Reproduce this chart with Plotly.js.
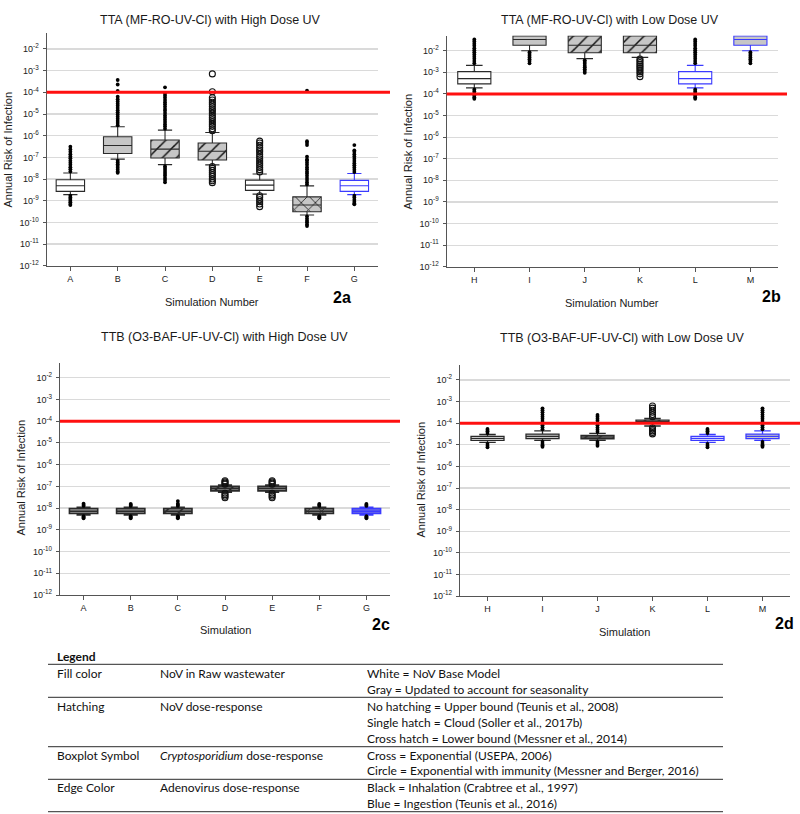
<!DOCTYPE html>
<html><head><meta charset="utf-8">
<script src="https://cdn.plot.ly/plotly-3.0.1.min.js"></script>
<style>body{margin:0;background:#fff}#chart{width:800px;height:814px}</style>
</head><body><div id="chart"></div>
<script>
// ---------------- DATA ----------------
const catsHigh = ['A','B','C','D','E','F','G'];
const catsLow  = ['H','I','J','K','L','M'];
const threshold = 1e-4;
const yTickVals = [1e-12,1e-11,1e-10,1e-9,1e-8,1e-7,1e-6,1e-5,1e-4,1e-3,1e-2];
const yTickText = ['10<sup>-12</sup>','10<sup>-11</sup>','10<sup>-10</sup>','10<sup>-9</sup>','10<sup>-8</sup>','10<sup>-7</sup>','10<sup>-6</sup>','10<sup>-5</sup>','10<sup>-4</sup>','10<sup>-3</sup>','10<sup>-2</sup>'];

// Panel 2a
const a_q1  = [2.7e-9, 1.5e-7, 9.3e-8, 7.6e-8, 3.0e-9, 3.1e-10, 2.7e-9];
const a_med = [4.9e-9, 3.5e-7, 2.4e-7, 1.9e-7, 5.2e-9, 6.3e-10, 4.9e-9];
const a_q3  = [9.3e-9, 8.9e-7, 6.3e-7, 4.6e-7, 8.9e-9, 1.5e-9, 8.7e-9];
const a_lf  = [1.9e-9, 8.3e-8, 4.6e-8, 4.5e-8, 2.0e-9, 2.2e-10, 1.9e-9];
const a_uf  = [1.9e-8, 2.6e-6, 1.8e-6, 1.4e-6, 1.7e-8, 4.8e-9, 1.8e-8];
const a_out = [
  [2.2e-8,2.8e-8,3.5e-8,4.5e-8,5.6e-8,7e-8,9e-8,1.1e-7,1.4e-7,1.8e-7,2.3e-7,3.1e-7,1.7e-9,1.4e-9,1.2e-9,1e-9,8.5e-10,7e-10,6.3e-10],
  [3e-6,3.8e-6,4.8e-6,6e-6,7.5e-6,9.5e-6,1.2e-5,1.5e-5,1.9e-5,2.4e-5,3e-5,3.8e-5,4.8e-5,6.3e-5,1.15e-4,2.3e-4,3.7e-4,7e-8,5.8e-8,4.8e-8,4e-8,3.3e-8,2.7e-8,2.2e-8,1.95e-8],
  [2.1e-6,2.7e-6,3.4e-6,4.3e-6,5.4e-6,6.8e-6,8.6e-6,1.1e-5,1.4e-5,1.7e-5,2.2e-5,2.8e-5,3.5e-5,4.4e-5,5.6e-5,7e-5,8.9e-5,1.7e-4,3.9e-8,3.2e-8,2.6e-8,2.1e-8,1.7e-8,1.4e-8,1.1e-8,9e-9,7.1e-9],
  [1.7e-6,2.1e-6,2.7e-6,3.4e-6,4.3e-6,5.4e-6,6.8e-6,8.6e-6,1.1e-5,1.4e-5,1.7e-5,2.2e-5,2.8e-5,3.5e-5,4.4e-5,5.6e-5,1.07e-4,7.1e-4,3.8e-8,3.1e-8,2.5e-8,2e-8,1.6e-8,1.3e-8,1e-8,8.3e-9,6.8e-9],
  [2.1e-8,2.7e-8,3.4e-8,4.3e-8,5.4e-8,6.8e-8,8.6e-8,1.1e-7,1.4e-7,1.8e-7,2.2e-7,2.8e-7,3.6e-7,4.6e-7,5.6e-7,1.7e-9,1.4e-9,1.1e-9,9e-10,7e-10,5.3e-10],
  [5.6e-9,7e-9,8.9e-9,1.1e-8,1.4e-8,1.8e-8,2.2e-8,2.8e-8,3.5e-8,4.5e-8,5.6e-8,7e-8,8e-8,1.07e-7,3.7e-7,4.6e-7,5.6e-7,1.2e-4,1.9e-10,1.5e-10,1.2e-10,1e-10,8e-11,6.8e-11],
  [2.1e-8,2.7e-8,3.4e-8,4.3e-8,5.4e-8,6.8e-8,8.6e-8,1.1e-7,1.4e-7,1.8e-7,2.1e-7,3.7e-7,1.7e-9,1.4e-9,1.1e-9,9e-10,7.5e-10,6.8e-10]
];

// Panel 2b
const b_q1  = [2.9e-4, 1.8e-2, 8.1e-3, 8.1e-3, 2.9e-4, 1.8e-2];
const b_med = [5.1e-4, 3.3e-2, 1.8e-2, 1.8e-2, 5.1e-4, 3.3e-2];
const b_q3  = [1.07e-3, 4.8e-2, 4.8e-2, 4.8e-2, 1.07e-3, 4.8e-2];
const b_lf  = [1.9e-4, 1e-2, 4.3e-3, 4.9e-3, 1.9e-4, 1e-2];
const b_uf  = [2.1e-3, 4.8e-2, 4.8e-2, 4.8e-2, 2.1e-3, 4.8e-2];
const b_out = [
  [2.6e-3,3.3e-3,4.2e-3,5.3e-3,6.7e-3,8.4e-3,1.06e-2,1.3e-2,1.7e-2,2.1e-2,2.7e-2,3.3e-2,1.6e-4,1.3e-4,1.05e-4,8.5e-5,7e-5,5.9e-5],
  [8.5e-3,7e-3,5.8e-3,4.8e-3,4e-3,3.3e-3,2.6e-3],
  [3.6e-3,3e-3,2.5e-3,2e-3,1.7e-3,1.4e-3,1.15e-3,9.5e-4],
  [4.1e-3,3.4e-3,2.8e-3,2.3e-3,1.9e-3,1.6e-3,1.3e-3,1.05e-3,8.5e-4,6.3e-4],
  [2.6e-3,3.3e-3,4.2e-3,5.3e-3,6.7e-3,8.4e-3,1.06e-2,1.3e-2,1.7e-2,2.1e-2,2.7e-2,3.3e-2,1.6e-4,1.3e-4,1.05e-4,8.5e-5,7e-5,5.9e-5],
  [8.5e-3,7e-3,5.8e-3,4.8e-3,4e-3,3.3e-3,2.6e-3]
];

// Panel 2c
const c_q1  = [5.6e-9, 5.6e-9, 5.6e-9, 6.2e-8, 6.2e-8, 5.6e-9, 5.6e-9];
const c_med = [7.2e-9, 7.2e-9, 7.2e-9, 7.9e-8, 7.9e-8, 7.2e-9, 7.2e-9];
const c_q3  = [9.5e-9, 9.5e-9, 9.5e-9, 1.0e-7, 1.0e-7, 9.5e-9, 9.5e-9];
const c_lf  = [4.8e-9, 4.8e-9, 4.8e-9, 5.4e-8, 5.4e-8, 4.8e-9, 4.8e-9];
const c_uf  = [1.1e-8, 1.1e-8, 1.1e-8, 1.15e-7, 1.15e-7, 1.1e-8, 1.1e-8];
const c_out = [
  [1.25e-8,1.4e-8,1.6e-8,4.2e-9,3.8e-9,3.4e-9],
  [1.25e-8,1.4e-8,1.55e-8,4.2e-9,3.8e-9,3.4e-9],
  [1.25e-8,1.4e-8,1.6e-8,2.1e-8,4.2e-9,3.8e-9,3.4e-9],
  [1.25e-7,1.4e-7,1.6e-7,1.8e-7,4.8e-8,4.1e-8,3.5e-8,3e-8],
  [1.25e-7,1.4e-7,1.6e-7,1.8e-7,4.8e-8,4.1e-8,3.5e-8,3e-8],
  [1.25e-8,1.4e-8,1.55e-8,4.2e-9,3.8e-9,3.4e-9],
  [1.25e-8,1.4e-8,1.55e-8,4.2e-9,3.8e-9,3.4e-9]
];

// Panel 2d
const d_q1  = [1.6e-5, 1.95e-5, 1.9e-5, 9.8e-5, 1.6e-5, 1.95e-5];
const d_med = [2.0e-5, 2.45e-5, 2.3e-5, 1.17e-4, 2.0e-5, 2.45e-5];
const d_q3  = [2.45e-5, 3.15e-5, 2.75e-5, 1.4e-4, 2.45e-5, 3.15e-5];
const d_lf  = [1.3e-5, 1.6e-5, 1.6e-5, 7.4e-5, 1.3e-5, 1.6e-5];
const d_uf  = [3.0e-5, 4.4e-5, 3.4e-5, 1.65e-4, 3.0e-5, 4.4e-5];
const d_out = [
  [3.5e-5,4.2e-5,4.8e-5,5.4e-5,1.1e-5,9e-6,7.6e-6],
  [5.2e-5,6.5e-5,8e-5,1e-4,1.25e-4,1.6e-4,2e-4,2.5e-4,3.2e-4,4e-4,4.9e-4,1.35e-5,1.1e-5,9.5e-6,8.1e-6],
  [4e-5,5e-5,6.3e-5,8e-5,1e-4,1.3e-4,1.6e-4,2e-4,2.4e-4,1.35e-5,1.1e-5,9e-6],
  [2e-4,2.5e-4,3.2e-4,4e-4,5e-4,6.3e-4,6.2e-5,5.2e-5,4.4e-5,3.7e-5,3.2e-5],
  [3.5e-5,4.2e-5,4.8e-5,5.4e-5,1.1e-5,9e-6,7.6e-6],
  [5.2e-5,6.5e-5,8e-5,1e-4,1.25e-4,1.6e-4,2e-4,2.5e-4,3.2e-4,4e-4,4.9e-4,1.35e-5,1.1e-5,9.5e-6,8.1e-6]
];

// --------------- STYLES ---------------
const styHigh = {fill:['white','gray','gray','gray','white','gray','white'], hatch:['','','/','/','','x',''], sym:['dot','dot','dot','ring','ring','dot','dot'], edge:['black','black','black','black','black','black','blue']};
const styLow  = {fill:['white','gray','gray','gray','white','gray'], hatch:['','','/','/','',''], sym:['dot','dot','dot','ring','dot','dot'], edge:['black','black','black','black','blue','blue']};
const FILL = {white:'#ffffff', gray:'#c6c6c6'};
const EDGE = {black:'#2a2a2a', blue:'#3b3bff'};
const W = 800, H = 814;
const px = v => v / W, py = v => 1 - v / H;

const panels = [
  {n:1, cats:catsHigh, st:{q1:a_q1,med:a_med,q3:a_q3,lf:a_lf,uf:a_uf,out:a_out}, sty:styHigh, x0:46.7, x1:378, yTop:33, yBot:265.7, top:-1.262, redEnd:390, lw:1.1, compact:false},
  {n:2, cats:catsLow,  st:{q1:b_q1,med:b_med,q3:b_q3,lf:b_lf,uf:b_uf,out:b_out}, sty:styLow,  x0:446.7, x1:778, yTop:35.5, yBot:266.7, top:-1.296, redEnd:787, lw:1.1, compact:false},
  {n:3, cats:catsHigh, st:{q1:c_q1,med:c_med,q3:c_q3,lf:c_lf,uf:c_uf,out:c_out}, sty:styHigh, x0:60, x1:390, yTop:362.7, yBot:595, top:-1.31, redEnd:400, lw:1.6, compact:true},
  {n:4, cats:catsLow,  st:{q1:d_q1,med:d_med,q3:d_q3,lf:d_lf,uf:d_uf,out:d_out}, sty:styLow,  x0:460, x1:790, yTop:365, yBot:596, top:-1.306, redEnd:800, lw:1.3, compact:false}
];

const traces = [];
const layout = {width:W, height:H, margin:{l:0,r:0,t:0,b:0}, paper_bgcolor:'#fff', plot_bgcolor:'rgba(0,0,0,0)',
  showlegend:false, boxmode:'overlay', barmode:'overlay', shapes:[], annotations:[],
  font:{family:'"Liberation Sans", Arial, sans-serif', color:'#222'}};

panels.forEach(p => {
  const xa = p.n === 1 ? 'x' : 'x' + p.n;
  const ya = p.n === 1 ? 'y' : 'y' + p.n;
  const st = p.st, sty = p.sty;
  p.cats.forEach((c,i) => {
    const f = sty.fill[i];
    const fill = p.compact ? (f === 'white' ? '#9a9a9a' : '#8a8a8a') : FILL[f];
    const bar = {type:'bar', xaxis:xa, yaxis:ya, x:[c], base:[st.q1[i]], y:[st.q3[i]-st.q1[i]], width:0.6,
      marker:{color:fill, line:{width:0}}, hoverinfo:'skip'};
    if (sty.hatch[i]) bar.marker.pattern = {shape:sty.hatch[i], fgcolor:'#111111', bgcolor:fill, fgopacity:1, size:10, solidity:0.15, fillmode:'replace'};
    traces.push(bar);
  });
  p.cats.forEach((c,i) => {
    traces.push({type:'box', xaxis:xa, yaxis:ya, x:[c], q1:[st.q1[i]], median:[st.med[i]], q3:[st.q3[i]],
      lowerfence:[st.lf[i]], upperfence:[st.uf[i]], width:0.6, whiskerwidth:0.5,
      fillcolor: (p.compact && sty.edge[i] === 'blue') ? 'rgba(90,90,255,0.75)' : 'rgba(0,0,0,0)',
      line:{color:EDGE[sty.edge[i]], width:p.lw}, boxpoints:false});
    const ring = sty.sym[i] === 'ring';
    traces.push({type:'scatter', mode:'markers', xaxis:xa, yaxis:ya, x:st.out[i].map(()=>c), y:st.out[i], cliponaxis:false,
      marker: ring ? {symbol:'circle-open', size:6, color:'#111', line:{width:1.1, color:'#111'}} : {symbol:'circle', size:3.8, color:'#000'}});
  });
  const xk = p.n === 1 ? 'xaxis' : 'xaxis' + p.n;
  const yk = p.n === 1 ? 'yaxis' : 'yaxis' + p.n;
  layout[xk] = {domain:[px(p.x0), px(p.x1)], anchor:ya, type:'category', categoryarray:p.cats, range:[-0.5, p.cats.length-0.5],
    showgrid:false, showline:true, linecolor:'#555', linewidth:1.2, ticks:'outside', ticklen:4, tickcolor:'#555',
    tickfont:{size:9, color:'#222'}, fixedrange:true};
  layout[yk] = {domain:[1-p.yBot/H, 1-p.yTop/H], anchor:xa, type:'log', range:[-12, p.top], tickvals:yTickVals, ticktext:yTickText,
    showgrid:true, gridcolor:'#dadada', gridwidth:1.2, showline:true, linecolor:'#555', linewidth:1.2, ticks:'outside', ticklen:3,
    tickcolor:'#555', tickfont:{size:9, color:'#222'}, zeroline:false, fixedrange:true, ticklabelstandoff:2};
  layout.shapes.push({type:'line', xref:'paper', yref:ya, x0:px(p.x0), x1:px(p.redEnd), y0:threshold, y1:threshold,
    line:{color:'#ff1010', width:3}, layer:'above'});
});

const TF = '"Liberation Sans", Arial, sans-serif';
function ann(text, x, y, size, opts) {
  layout.annotations.push(Object.assign({text, xref:'paper', yref:'paper', x:px(x), y:py(y), xanchor:'center', yanchor:'middle',
    showarrow:false, font:{family:TF, size, color:'#1a1a1a'}}, opts || {}));
}
ann('TTA (MF-RO-UV-Cl) with High Dose UV', 210, 20, 12.5);
ann('TTA (MF-RO-UV-Cl) with Low Dose UV', 610, 20, 12.5);
ann('TTB (O3-BAF-UF-UV-Cl) with High Dose UV', 224, 337, 12.5);
ann('TTB (O3-BAF-UF-UV-Cl) with Low Dose UV', 622, 338, 12.5);
ann('Annual Risk of Infection', 7.5, 150, 11, {textangle:-90});
ann('Annual Risk of Infection', 407.5, 152, 11, {textangle:-90});
ann('Annual Risk of Infection', 20.5, 478, 11, {textangle:-90});
ann('Annual Risk of Infection', 420.5, 480, 11, {textangle:-90});
ann('Simulation Number', 212, 302, 11);
ann('Simulation Number', 612, 303, 11);
ann('Simulation', 225, 630, 11);
ann('Simulation', 624, 632, 11);
ann('<b>2a</b>', 342, 297, 16, {font:{family:TF, size:16, color:'#000'}});
ann('<b>2b</b>', 771, 296, 16, {font:{family:TF, size:16, color:'#000'}});
ann('<b>2c</b>', 381, 624, 16, {font:{family:TF, size:16, color:'#000'}});
ann('<b>2d</b>', 784, 623, 16, {font:{family:TF, size:16, color:'#000'}});

const LF = 'Lato, "Open Sans", sans-serif';
const legRows = [
  ['Fill color','NoV in Raw wastewater','White = NoV Base Model', 673.3],
  ['','','Gray = Updated to account for seasonality', 689],
  ['Hatching','NoV dose-response','No hatching = Upper bound (Teunis et al., 2008)', 706],
  ['','','Single hatch = Cloud (Soller et al., 2017b)', 722.7],
  ['','','Cross hatch = Lower bound (Messner et al., 2014)', 738.3],
  ['Boxplot Symbol','<i>Cryptosporidium</i> dose-response','Cross = Exponential (USEPA, 2006)', 755.3],
  ['','','Circle = Exponential with immunity (Messner and Berger, 2016)', 770.7],
  ['Edge Color','Adenovirus dose-response','Black = Inhalation (Crabtree et al., 1997)', 787.3],
  ['','','Blue = Ingestion (Teunis et al., 2016)', 803.3]
];
const colX = [55, 158, 365];
function lann(text, x, y, bold) {
  layout.annotations.push({text: bold ? '<b>'+text+'</b>' : text, xref:'paper', yref:'paper', x:px(x), y:py(y), xanchor:'left', yanchor:'middle',
    showarrow:false, font:{family:LF, size:12, color:'#111'}});
}
lann('Legend', 55, 656, true);
legRows.forEach(r => { [0,1,2].forEach(k => { if (r[k]) lann(r[k], colX[k], r[3]); }); });
[664.3, 697.3, 746.7, 779.3, 811.7].forEach(y => {
  layout.shapes.push({type:'line', xref:'paper', yref:'paper', x0:px(48), x1:px(723), y0:py(y), y1:py(y), line:{color:'#555', width:1.3}});
});

Plotly.newPlot('chart', traces, layout, {staticPlot:true, displayModeBar:false});
</script></body></html>
